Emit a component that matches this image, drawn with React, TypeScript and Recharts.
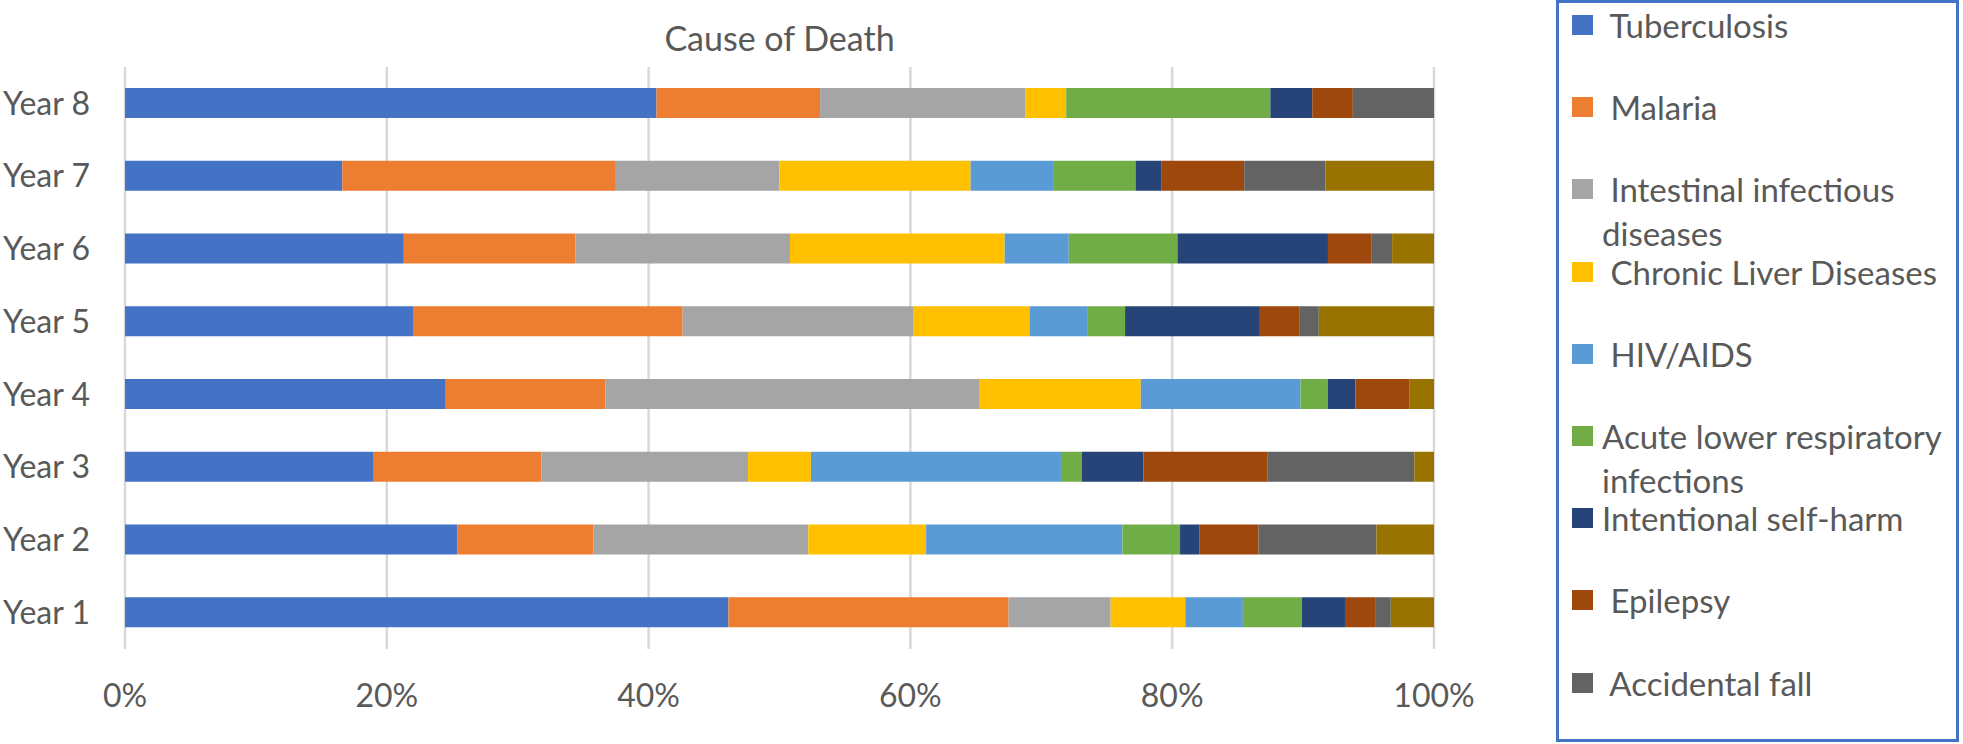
import { Bar, BarChart, CartesianGrid, XAxis, YAxis } from "recharts";

const years = ["Year 1", "Year 2", "Year 3", "Year 4", "Year 5", "Year 6", "Year 7", "Year 8"];

// shares per year (percent of deaths)
const tuberculosis = [46.1, 25.4, 19.0, 24.5, 22.0, 21.3, 16.6, 40.6];
const malaria = [21.4, 10.4, 12.8, 12.2, 20.6, 13.1, 20.9, 12.5];
const intestinal = [7.8, 16.4, 15.8, 28.6, 17.6, 16.4, 12.5, 15.7];
const liver = [5.7, 9.0, 4.8, 12.3, 8.9, 16.4, 14.6, 3.1];
const hivAids = [4.4, 15.0, 19.1, 12.2, 4.4, 4.9, 6.3, 0];
const respiratory = [4.5, 4.4, 1.6, 2.1, 2.9, 8.3, 6.3, 15.6];
const selfHarm = [3.3, 1.5, 4.7, 2.1, 10.3, 11.5, 2.0, 3.2];
const epilepsy = [2.3, 4.5, 9.5, 4.1, 3.0, 3.3, 6.3, 3.1];
const accidentalFall = [1.2, 9.0, 11.2, 0, 1.5, 1.6, 6.2, 6.2];
const other = [3.3, 4.4, 1.5, 1.9, 8.8, 3.2, 8.3, 0];

const seriesKeys = ["tb", "malaria", "intestinal", "liver", "hiv", "alri", "selfHarm", "epilepsy", "fall", "other"];
const seriesNames = [
  " Tuberculosis",
  " Malaria",
  " Intestinal infectious diseases",
  " Chronic Liver Diseases",
  " HIV/AIDS",
  "Acute lower respiratory infections",
  "Intentional self-harm",
  " Epilepsy",
  " Accidental fall",
  "Other",
];
const seriesValues = [tuberculosis, malaria, intestinal, liver, hivAids, respiratory, selfHarm, epilepsy, accidentalFall, other];
const colors = ["#4472C4", "#ED7D31", "#A5A5A5", "#FFC000", "#5B9BD5", "#70AD47", "#264478", "#9E480E", "#636363", "#997300"];

// legend text as it wraps in the original (last series is cut off there)
const legendLines = [
  [" Tuberculosis"],
  [" Malaria"],
  [" Intestinal infectious", "diseases"],
  [" Chronic Liver Diseases"],
  [" HIV/AIDS"],
  ["Acute lower respiratory", "infections"],
  ["Intentional self-harm"],
  [" Epilepsy"],
  [" Accidental fall"],
];

const xTicks = [0, 0.2, 0.4, 0.6, 0.8, 1];

const FONT = "Lato, 'Open Sans', sans-serif";
const TEXT = "#595959";

export default function App() {
  const data = years.map((year, i) => {
    const row: Record<string, string | number> = { year };
    seriesKeys.forEach((k, s) => {
      row[k] = seriesValues[s][i];
    });
    return row;
  });

  return (
    <div style={{ position: "absolute", left: 0, top: 0, width: 1963, height: 744, background: "#fff", fontFamily: FONT }}>
      <div
        style={{
          position: "absolute",
          left: 125,
          width: 1309,
          top: 16,
          textAlign: "center",
          fontSize: 34,
          lineHeight: "44px",
          color: TEXT,
        }}
      >
        Cause of Death
      </div>

      <BarChart
        width={1963}
        height={744}
        data={data}
        layout="vertical"
        stackOffset="expand"
        barSize={30}
        margin={{ top: 67, right: 529, bottom: 0, left: 0 }}
      >
        <CartesianGrid horizontal={false} stroke="#D9D9D9" strokeWidth={2.5} />
        <XAxis
          type="number"
          domain={[0, 1]}
          ticks={xTicks}
          interval={0}
          tickFormatter={(v: number) => `${Math.round(v * 100)}%`}
          axisLine={false}
          tickLine={false}
          height={95}
          tickMargin={29}
          tick={{ fill: TEXT, fontSize: 32, fontFamily: FONT }}
        />
        <YAxis
          type="category"
          dataKey="year"
          reversed
          interval={0}
          width={125}
          axisLine={false}
          tickLine={false}
          tickMargin={29}
          tick={{ fill: TEXT, fontSize: 32, fontFamily: FONT }}
        />
        {seriesKeys.map((k, s) => (
          <Bar key={k} dataKey={k} name={seriesNames[s]} stackId="deaths" fill={colors[s]} isAnimationActive={false} />
        ))}
      </BarChart>

      <div
        style={{
          position: "absolute",
          left: 1556,
          top: 0,
          width: 403,
          height: 742,
          border: "3px solid #4472C4",
          boxSizing: "border-box",
        }}
      >
        {legendLines.map((lines, i) => {
          const center = 22 + i * 82.2;
          return (
            <div key={i}>
              <div
                style={{
                  position: "absolute",
                  left: 13,
                  top: center - 10,
                  width: 21,
                  height: 20,
                  background: colors[i],
                }}
              />
              <div
                style={{
                  position: "absolute",
                  left: 43,
                  top: center - 22,
                  fontSize: 33,
                  lineHeight: "44px",
                  color: TEXT,
                  whiteSpace: "pre",
                }}
              >
                {lines.join("\n")}
              </div>
            </div>
          );
        })}
      </div>
    </div>
  );
}
